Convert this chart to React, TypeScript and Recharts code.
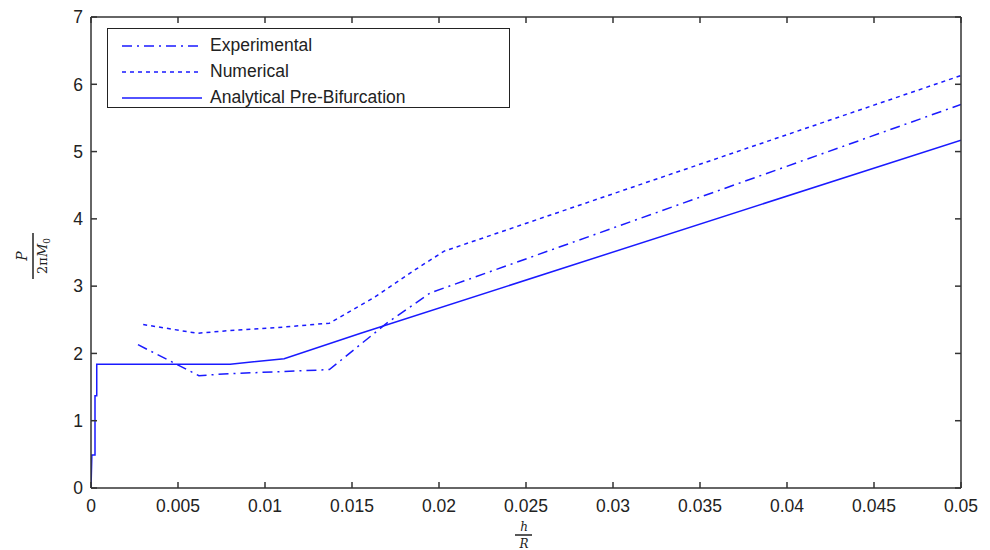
import { Line, LineChart, XAxis, YAxis } from "recharts";

const BLUE = "#1a1aff";
const AXIS = "#333333";

const X_TICKS = [0, 0.005, 0.01, 0.015, 0.02, 0.025, 0.03, 0.035, 0.04, 0.045, 0.05];
const Y_TICKS = [0, 1, 2, 3, 4, 5, 6, 7];

const experimental = [
  { x: 0.0027, y: 2.13 },
  { x: 0.0062, y: 1.67 },
  { x: 0.008, y: 1.7 },
  { x: 0.011, y: 1.73 },
  { x: 0.0137, y: 1.76 },
  { x: 0.017, y: 2.45 },
  { x: 0.0195, y: 2.9 },
  { x: 0.05, y: 5.7 },
];

const numerical = [
  { x: 0.003, y: 2.43 },
  { x: 0.0061, y: 2.3 },
  { x: 0.008, y: 2.34 },
  { x: 0.011, y: 2.39 },
  { x: 0.0137, y: 2.45 },
  { x: 0.0162, y: 2.82 },
  { x: 0.0189, y: 3.29 },
  { x: 0.0203, y: 3.52 },
  { x: 0.05, y: 6.13 },
];

const analytical = [
  { x: 0, y: 0 },
  { x: 0.00005, y: 0.49 },
  { x: 0.00023, y: 0.49 },
  { x: 0.00023, y: 1.37 },
  { x: 0.00033, y: 1.37 },
  { x: 0.00033, y: 1.84 },
  { x: 0.008, y: 1.84 },
  { x: 0.0111, y: 1.92 },
  { x: 0.0155, y: 2.3 },
  { x: 0.05, y: 5.17 },
];

const SERIES = [
  { name: "Experimental", data: experimental, dash: "10 5 2 5" },
  { name: "Numerical", data: numerical, dash: "4 4" },
  { name: "Analytical Pre-Bifurcation", data: analytical, dash: undefined },
];

const W = 990;
const H = 550;
const MARGIN = { top: 17, right: 29, bottom: 22, left: 31 };
const PLOT_TOP = MARGIN.top;
const PLOT_RIGHT = W - MARGIN.right;

const font = "Arial, 'Liberation Sans', sans-serif";
const TICK_LEN = 6;
const MARGIN_X = 10;
const MARGIN_Y = 8;

function LegendBox() {
  return (
    <div
      style={{
        position: "absolute",
        left: 107,
        top: 28,
        border: "1.5px solid #222",
        background: "#fff",
        width: 403,
        height: 80,
        boxSizing: "border-box",
        paddingTop: 4,
      }}
    >
      {SERIES.map((s) => (
        <div key={s.name} style={{ display: "flex", alignItems: "center", height: 26 }}>
          <svg width={102} height={10} style={{ display: "block" }}>
            <line x1={14} x2={94} y1={5} y2={5} stroke={BLUE} strokeWidth={1.5} strokeDasharray={s.dash} />
          </svg>
          <span style={{ fontFamily: font, fontSize: 17.5, color: "#222", lineHeight: 1 }}>{s.name}</span>
        </div>
      ))}
    </div>
  );
}

const XLabel = () => (
  <g fontFamily="'DejaVu Serif', serif" fontStyle="italic" fill="#222">
    <text x={524} y={531} textAnchor="middle" fontSize={12}>h</text>
    <line x1={515} x2={532} y1={535} y2={535} stroke="#222" strokeWidth={1.5} />
    <text x={524} y={548} textAnchor="middle" fontSize={12}>R</text>
  </g>
);

const YLabel = () => (
  <g transform="rotate(-90 33 256)" fontFamily="'DejaVu Serif', serif" fill="#222">
    <text x={33} y={250} textAnchor="middle" fontSize={14} fontStyle="italic">P</text>
    <line x1={10} x2={56} y1={256} y2={256} stroke="#222" strokeWidth={1.5} />
    <text x={33} y={270} textAnchor="middle" fontSize={13}>
      2π<tspan fontStyle="italic">M</tspan>
      <tspan fontSize={9} dy={3}>0</tspan>
    </text>
  </g>
);

// custom ticks: label + inward tick marks on both sides of the box (matlab style)
const BottomTick = (p: any) => {
  const axisY = p.y - MARGIN_X;
  return (
    <g>
      <line x1={p.x} x2={p.x} y1={axisY} y2={axisY - TICK_LEN} stroke={AXIS} strokeWidth={1.5} />
      <line x1={p.x} x2={p.x} y1={PLOT_TOP} y2={PLOT_TOP + TICK_LEN} stroke={AXIS} strokeWidth={1.5} />
      <text x={p.x} y={p.y} dy="0.8em" textAnchor="middle" fontFamily={font} fontSize={17.5} fill="#222">
        {p.payload.value}
      </text>
    </g>
  );
};

const LeftTick = (p: any) => {
  const axisX = p.x + MARGIN_Y;
  return (
    <g>
      <line x1={axisX} x2={axisX + TICK_LEN} y1={p.y} y2={p.y} stroke={AXIS} strokeWidth={1.5} />
      <line x1={PLOT_RIGHT} x2={PLOT_RIGHT - TICK_LEN} y1={p.y} y2={p.y} stroke={AXIS} strokeWidth={1.5} />
      <text x={p.x} y={p.y} dy="0.36em" textAnchor="end" fontFamily={font} fontSize={17.5} fill="#222">
        {p.payload.value}
      </text>
    </g>
  );
};

export default function App() {
  return (
    <div style={{ position: "absolute", left: 0, top: 0, background: "#fff", width: W, height: H }}>
      <LineChart width={W} height={H} margin={MARGIN}>
        <XAxis
          xAxisId="b"
          type="number"
          dataKey="x"
          domain={[0, 0.05]}
          ticks={X_TICKS}
          interval={0}
          allowDataOverflow
          height={40}
          tickLine={false}
          tickSize={0}
          tickMargin={MARGIN_X}
          tick={BottomTick}
          stroke={AXIS}
          strokeWidth={1.5}
          label={<XLabel />}
        />
        <XAxis
          xAxisId="t"
          orientation="top"
          mirror
          type="number"
          dataKey="x"
          domain={[0, 0.05]}
          height={1}
          tickLine={false}
          tick={false}
          stroke={AXIS}
          strokeWidth={1.5}
        />
        <YAxis
          yAxisId="l"
          type="number"
          domain={[0, 7]}
          ticks={Y_TICKS}
          interval={0}
          width={60}
          tickLine={false}
          tickSize={0}
          tickMargin={MARGIN_Y}
          tick={LeftTick}
          stroke={AXIS}
          strokeWidth={1.5}
          label={<YLabel />}
        />
        <YAxis
          yAxisId="r"
          orientation="right"
          mirror
          type="number"
          domain={[0, 7]}
          width={1}
          tickLine={false}
          tick={false}
          stroke={AXIS}
          strokeWidth={1.5}
        />
        {SERIES.map((s) => (
          <Line
            key={s.name}
            xAxisId="b"
            yAxisId="l"
            data={s.data}
            dataKey="y"
            name={s.name}
            stroke={BLUE}
            strokeWidth={1.5}
            strokeDasharray={s.dash}
            dot={false}
            activeDot={false}
            isAnimationActive={false}
          />
        ))}
      </LineChart>
      <LegendBox />
    </div>
  );
}
